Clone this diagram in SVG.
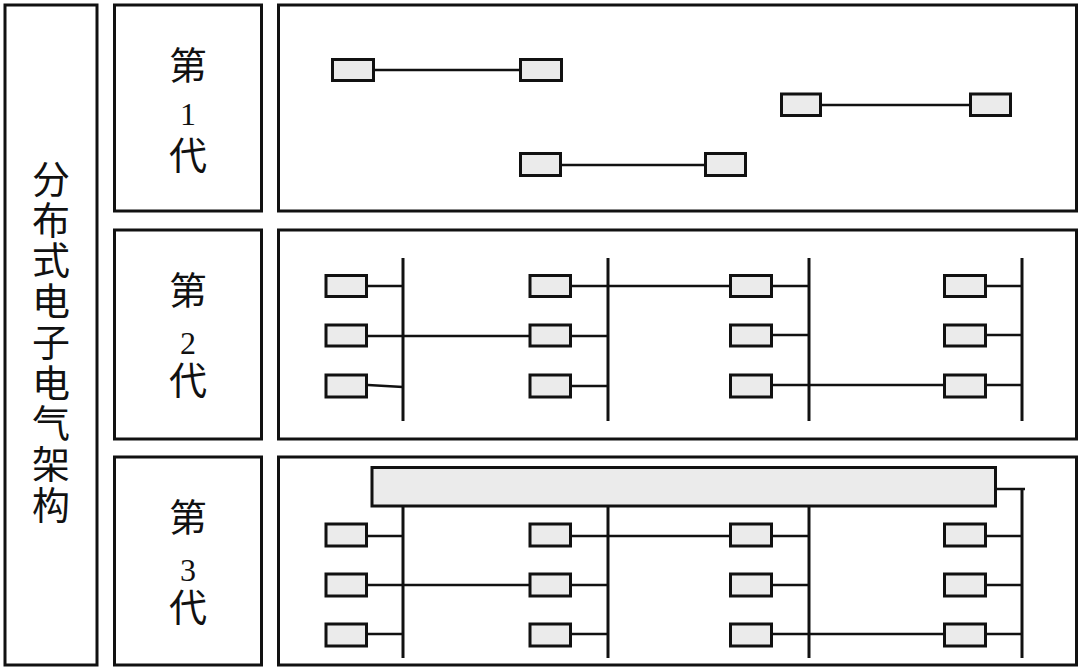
<svg xmlns="http://www.w3.org/2000/svg" width="1080" height="672" viewBox="0 0 1080 672">
<style>
.panel{fill:#fff;stroke:#111;stroke-width:3}
.ecu{fill:#ebebeb;stroke:#111;stroke-width:3}
.ln{stroke:#111;stroke-width:2.5;fill:none}
.bus{stroke:#111;stroke-width:3;fill:none}
.cjk{font-family:"Noto Sans CJK SC","Noto Sans CJK JP",sans-serif;font-size:38px;fill:#111;text-anchor:middle}
.num{font-family:"Liberation Serif","DejaVu Serif",serif;font-size:32px;fill:#111;text-anchor:middle}
</style>
<rect width="1080" height="672" fill="#fff"/>
<g id="title">
<rect class="panel" x="5" y="5" width="92" height="660"/>
<text class="cjk"><tspan x="51" y="193">分</tspan><tspan x="51" y="234">布</tspan><tspan x="51" y="274">式</tspan><tspan x="51" y="315">电</tspan><tspan x="51" y="356">子</tspan><tspan x="51" y="397">电</tspan><tspan x="51" y="437">气</tspan><tspan x="51" y="478">架</tspan><tspan x="51" y="519">构</tspan></text>
</g>
<g id="gen1-label">
<rect class="panel" x="114.5" y="5" width="147" height="206"/>
<text class="cjk" x="188" y="79">第</text>
<text class="num" x="188" y="125">1</text>
<text class="cjk" x="188" y="169">代</text>
</g>
<g id="gen2-label">
<rect class="panel" x="114.5" y="230" width="147" height="209"/>
<text class="cjk" x="188" y="304">第</text>
<text class="num" x="188" y="354">2</text>
<text class="cjk" x="188" y="394">代</text>
</g>
<g id="gen3-label">
<rect class="panel" x="114.5" y="457" width="147" height="208"/>
<text class="cjk" x="188" y="531">第</text>
<text class="num" x="188" y="581">3</text>
<text class="cjk" x="188" y="621">代</text>
</g>
<g id="gen1-panel"><rect class="panel" x="278.5" y="5" width="798" height="206"/></g>
<g id="gen2-panel"><rect class="panel" x="278.5" y="230" width="798" height="209"/></g>
<g id="gen3-panel"><rect class="panel" x="278.5" y="457" width="798" height="208"/></g>
<g id="connectors">
<line class="ln" x1="375" y1="70" x2="519" y2="70"/>
<line class="ln" x1="822" y1="105" x2="969" y2="105"/>
<line class="ln" x1="562" y1="165" x2="704" y2="165"/>
<line class="bus" x1="403" y1="258" x2="403" y2="421"/>
<line class="bus" x1="608" y1="258" x2="608" y2="421"/>
<line class="bus" x1="809" y1="258" x2="809" y2="421"/>
<line class="bus" x1="1022" y1="258" x2="1022" y2="421"/>
<line class="ln" x1="368" y1="286" x2="403" y2="286"/>
<line class="ln" x1="368" y1="336" x2="529" y2="336"/>
<path class="ln" d="M368 385 L403 387"/>
<line class="ln" x1="572" y1="286" x2="729" y2="286"/>
<line class="ln" x1="572" y1="336" x2="608" y2="336"/>
<line class="ln" x1="572" y1="386" x2="608" y2="386"/>
<line class="ln" x1="773" y1="286" x2="809" y2="286"/>
<line class="ln" x1="773" y1="335" x2="809" y2="335"/>
<line class="ln" x1="773" y1="385" x2="943" y2="385"/>
<line class="ln" x1="987" y1="286" x2="1022" y2="286"/>
<line class="ln" x1="987" y1="335" x2="1022" y2="335"/>
<line class="ln" x1="987" y1="385" x2="1022" y2="385"/>
<line class="bus" x1="403" y1="507" x2="403" y2="658"/>
<line class="bus" x1="608" y1="507" x2="608" y2="658"/>
<line class="bus" x1="809" y1="507" x2="809" y2="658"/>
<line class="bus" x1="1022" y1="489" x2="1022" y2="658"/>
<line class="ln" x1="997" y1="489" x2="1025" y2="489"/>
<line class="ln" x1="368" y1="536" x2="403" y2="536"/>
<line class="ln" x1="368" y1="585" x2="529" y2="585"/>
<line class="ln" x1="368" y1="634" x2="403" y2="634"/>
<line class="ln" x1="572" y1="536" x2="729" y2="536"/>
<line class="ln" x1="572" y1="585" x2="608" y2="585"/>
<line class="ln" x1="572" y1="634" x2="608" y2="634"/>
<line class="ln" x1="773" y1="536" x2="809" y2="536"/>
<line class="ln" x1="773" y1="585" x2="809" y2="585"/>
<line class="ln" x1="773" y1="634" x2="943" y2="634"/>
<line class="ln" x1="987" y1="536" x2="1022" y2="536"/>
<line class="ln" x1="987" y1="585" x2="1022" y2="585"/>
<line class="ln" x1="987" y1="634" x2="1022" y2="634"/>
</g>
<g id="gen1-ecus">
<rect class="ecu" x="332.5" y="59.5" width="41" height="21"/>
<rect class="ecu" x="520.5" y="59.5" width="41" height="21"/>
<rect class="ecu" x="781.5" y="94" width="39" height="21.5"/>
<rect class="ecu" x="970.5" y="94" width="40" height="21.5"/>
<rect class="ecu" x="520.5" y="153.5" width="40" height="22"/>
<rect class="ecu" x="705.5" y="153.5" width="40" height="22"/>
</g>
<g id="gen2-ecus">
<rect class="ecu" x="326" y="275.5" width="40.5" height="21"/>
<rect class="ecu" x="326" y="325" width="40.5" height="21"/>
<rect class="ecu" x="326" y="375" width="40.5" height="22"/>
<rect class="ecu" x="530" y="275.5" width="40.5" height="21"/>
<rect class="ecu" x="530" y="325" width="40.5" height="21"/>
<rect class="ecu" x="530" y="375" width="40.5" height="22"/>
<rect class="ecu" x="730.5" y="275.5" width="41" height="21"/>
<rect class="ecu" x="730.5" y="325" width="41" height="21"/>
<rect class="ecu" x="730.5" y="375" width="41" height="22"/>
<rect class="ecu" x="944.5" y="275.5" width="41" height="21"/>
<rect class="ecu" x="944.5" y="325" width="41" height="21"/>
<rect class="ecu" x="944.5" y="375" width="41" height="22"/>
</g>
<g id="gen3-ecus">
<rect class="ecu" x="372" y="467.5" width="623.5" height="38.5"/>
<rect class="ecu" x="326" y="524" width="40.5" height="22"/>
<rect class="ecu" x="326" y="574" width="40.5" height="22"/>
<rect class="ecu" x="326" y="624" width="40.5" height="22"/>
<rect class="ecu" x="530" y="524" width="40.5" height="22"/>
<rect class="ecu" x="530" y="574" width="40.5" height="22"/>
<rect class="ecu" x="530" y="624" width="40.5" height="22"/>
<rect class="ecu" x="730.5" y="524" width="41" height="22"/>
<rect class="ecu" x="730.5" y="574" width="41" height="22"/>
<rect class="ecu" x="730.5" y="624" width="41" height="22"/>
<rect class="ecu" x="944.5" y="524" width="41" height="22"/>
<rect class="ecu" x="944.5" y="574" width="41" height="22"/>
<rect class="ecu" x="944.5" y="624" width="41" height="22"/>
</g>
</svg>
